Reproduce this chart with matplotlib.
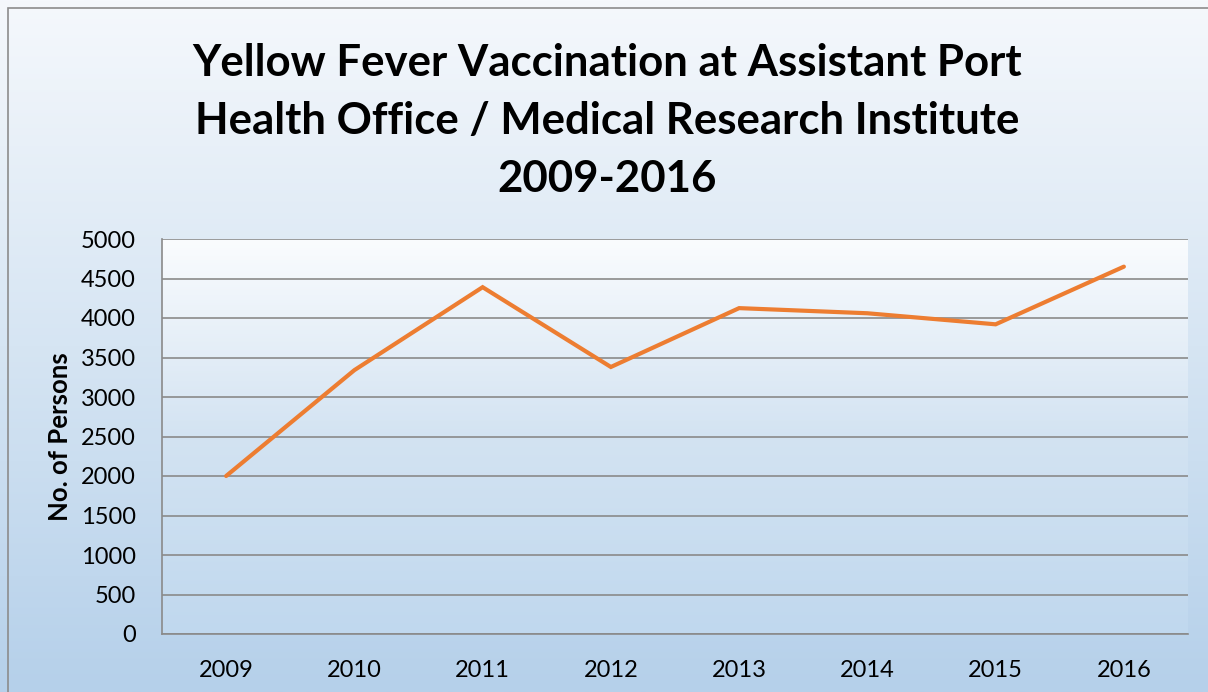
import numpy as np
import matplotlib
matplotlib.use("Agg")
import matplotlib.pyplot as plt
from matplotlib.colors import LinearSegmentedColormap
from matplotlib.patches import Rectangle

years = ["2009", "2010", "2011", "2012", "2013", "2014", "2015", "2016"]
persons = [2000, 3340, 4390, 3380, 4125, 4060, 3920, 4650]
y_ticks = [0, 500, 1000, 1500, 2000, 2500, 3000, 3500, 4000, 4500, 5000]
title = "Yellow Fever Vaccination at Assistant Port\nHealth Office / Medical Research Institute\n2009-2016"
ylabel = "No. of Persons"

plt.rcParams['font.family'] = ['Lato', 'DejaVu Sans']

W, H = 1208, 692
fig = plt.figure(figsize=(W / 100, H / 100), dpi=100)

# figure background gradient
bg = fig.add_axes([0, 0, 1, 1], zorder=-10)
bg_cmap = LinearSegmentedColormap.from_list("bg", ["#f5f8fc", "#d6e5f3", "#b5d0ea"])
grad = np.linspace(0, 1, 256).reshape(-1, 1)
bg.imshow(grad, aspect="auto", cmap=bg_cmap, extent=[0, 1, 0, 1], origin="upper")
bg.set_xlim(0, 1)
bg.set_ylim(0, 1)
bg.axis("off")
bg.add_patch(Rectangle((8 / W, -0.1), 1.2, 1 - 8 / H + 0.1, fill=False,
                       edgecolor="#8c8c8c", linewidth=1.2, transform=bg.transAxes))

left, right = 162 / W, 1188 / W
bottom, top = 1 - 634 / H, 1 - 239 / H
ax = fig.add_axes([left, bottom, right - left, top - bottom])
ax.patch.set_alpha(0)
pa_cmap = LinearSegmentedColormap.from_list("pa", ["#fafcfe", "#d3e3f2", "#c0d8ee"])
ax.imshow(grad, aspect="auto", cmap=pa_cmap, extent=[-0.5, 7.5, 0, 5000],
          origin="upper", zorder=0)

x = np.arange(len(years))
ax.plot(x, persons, color="#ED7D31", linewidth=3, solid_capstyle="round",
        solid_joinstyle="miter", zorder=3)

ax.set_xlim(-0.5, len(years) - 0.5)
ax.set_ylim(0, 5000)
ax.set_yticks(y_ticks)
ax.set_yticklabels([str(v) for v in y_ticks], fontsize=17)
ax.set_xticks(x)
ax.set_xticklabels(years, fontsize=17)
ax.tick_params(axis="both", length=0, colors="black")
ax.tick_params(axis="y", pad=19)
ax.tick_params(axis="x", pad=19)
ax.grid(axis="y", color="#8a8a8a", linewidth=1.2, zorder=1)
for s in ["top", "right"]:
    ax.spines[s].set_visible(False)
for s in ["left", "bottom"]:
    ax.spines[s].set_color("#8a8a8a")
    ax.spines[s].set_linewidth(1.2)

ax.set_ylabel(ylabel, fontsize=18.5, fontweight="bold", labelpad=6)

fig.text(0.5 + 3 / W, 1 - 121 / H, title, ha="center", va="center",
         fontsize=31.5, fontweight="bold", linespacing=1.54)

fig.savefig("out.png", dpi=100)
